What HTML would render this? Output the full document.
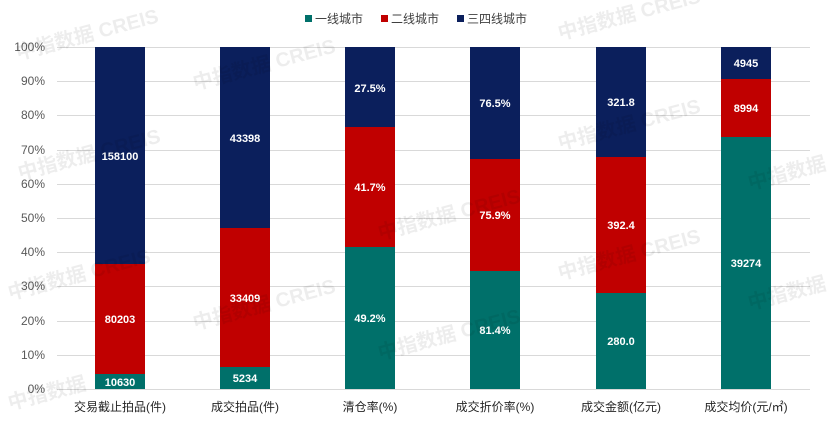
<!DOCTYPE html><html><head><meta charset="utf-8"><style>body{margin:0;background:#fff}svg{display:block}</style></head><body>
<svg width="831" height="430" xmlns="http://www.w3.org/2000/svg" font-family="Liberation Sans, Noto Sans CJK SC, sans-serif">
<g stroke="#d9d9d9" stroke-width="1">
<line x1="57" x2="810" y1="47.5" y2="47.5"/><line x1="57" x2="810" y1="81.5" y2="81.5"/><line x1="57" x2="810" y1="115.5" y2="115.5"/><line x1="57" x2="810" y1="150.5" y2="150.5"/><line x1="57" x2="810" y1="184.5" y2="184.5"/><line x1="57" x2="810" y1="218.5" y2="218.5"/><line x1="57" x2="810" y1="252.5" y2="252.5"/><line x1="57" x2="810" y1="286.5" y2="286.5"/><line x1="57" x2="810" y1="321.5" y2="321.5"/><line x1="57" x2="810" y1="355.5" y2="355.5"/><line x1="57" x2="810" y1="389.5" y2="389.5"/>
</g>
<g font-size="12" fill="#595959" text-anchor="end">
<text x="45" y="51">100%</text><text x="45" y="85">90%</text><text x="45" y="119">80%</text><text x="45" y="154">70%</text><text x="45" y="188">60%</text><text x="45" y="222">50%</text><text x="45" y="256">40%</text><text x="45" y="290">30%</text><text x="45" y="325">20%</text><text x="45" y="359">10%</text><text x="45" y="393">0%</text>
</g>
<g>
<rect x="95" y="47" width="50" height="217" fill="#0b1f5c"/><rect x="95" y="264" width="50" height="110" fill="#c00000"/><rect x="95" y="374" width="50" height="15" fill="#00706a"/>
<rect x="220" y="47" width="50" height="181" fill="#0b1f5c"/><rect x="220" y="228" width="50" height="139" fill="#c00000"/><rect x="220" y="367" width="50" height="22" fill="#00706a"/>
<rect x="345" y="47" width="50" height="80" fill="#0b1f5c"/><rect x="345" y="127" width="50" height="120" fill="#c00000"/><rect x="345" y="247" width="50" height="142" fill="#00706a"/>
<rect x="470" y="47" width="50" height="112" fill="#0b1f5c"/><rect x="470" y="159" width="50" height="112" fill="#c00000"/><rect x="470" y="271" width="50" height="118" fill="#00706a"/>
<rect x="596" y="47" width="50" height="110" fill="#0b1f5c"/><rect x="596" y="157" width="50" height="136" fill="#c00000"/><rect x="596" y="293" width="50" height="96" fill="#00706a"/>
<rect x="721" y="47" width="50" height="32" fill="#0b1f5c"/><rect x="721" y="79" width="50" height="58" fill="#c00000"/><rect x="721" y="137" width="50" height="252" fill="#00706a"/>
</g>
<g font-size="11" font-weight="bold" fill="#fff" text-anchor="middle">
<text x="120" y="160">158100</text><text x="120" y="323">80203</text><text x="120" y="386">10630</text>
<text x="245" y="142">43398</text><text x="245" y="302">33409</text><text x="245" y="382">5234</text>
<text x="370" y="92">27.5%</text><text x="370" y="191">41.7%</text><text x="370" y="322">49.2%</text>
<text x="495" y="107">76.5%</text><text x="495" y="219">75.9%</text><text x="495" y="334">81.4%</text>
<text x="621" y="106">321.8</text><text x="621" y="229">392.4</text><text x="621" y="345">280.0</text>
<text x="746" y="67">4945</text><text x="746" y="112">8994</text><text x="746" y="267">39274</text>
</g>
<g font-size="12" fill="#262626" text-anchor="middle">
<text x="120" y="411">交易截止拍品(件)</text><text x="245" y="411">成交拍品(件)</text><text x="370" y="411">清仓率(%)</text><text x="495" y="411">成交折价率(%)</text><text x="621" y="411">成交金额(亿元)</text><text x="746" y="411">成交均价(元/㎡)</text>
</g>
<g font-size="12" fill="#404040">
<rect x="305" y="15" width="7" height="7" fill="#00706a"/><text x="315" y="23">一线城市</text>
<rect x="381" y="15" width="7" height="7" fill="#c00000"/><text x="391" y="23">二线城市</text>
<rect x="457" y="15" width="7" height="7" fill="#0b1f5c"/><text x="467" y="23">三四线城市</text>
</g>
<g font-size="20" font-weight="bold" fill="#000" fill-opacity="0.07">
<text transform="translate(18,60) rotate(-15)">中指数据 CREIS</text>
<text transform="translate(195,90) rotate(-15)">中指数据 CREIS</text>
<text transform="translate(560,40) rotate(-15)">中指数据 CREIS</text>
<text transform="translate(20,180) rotate(-15)">中指数据 CREIS</text>
<text transform="translate(380,240) rotate(-15)">中指数据 CREIS</text>
<text transform="translate(195,330) rotate(-15)">中指数据 CREIS</text>
<text transform="translate(560,150) rotate(-15)">中指数据 CREIS</text>
<text transform="translate(10,300) rotate(-15)">中指数据 CREIS</text>
<text transform="translate(560,280) rotate(-15)">中指数据 CREIS</text>
<text transform="translate(380,360) rotate(-15)">中指数据 CREIS</text>
<text transform="translate(750,190) rotate(-15)">中指数据</text>
<text transform="translate(750,310) rotate(-15)">中指数据</text>
<text transform="translate(10,410) rotate(-15)">中指数据</text>
</g>
</svg></body></html>
